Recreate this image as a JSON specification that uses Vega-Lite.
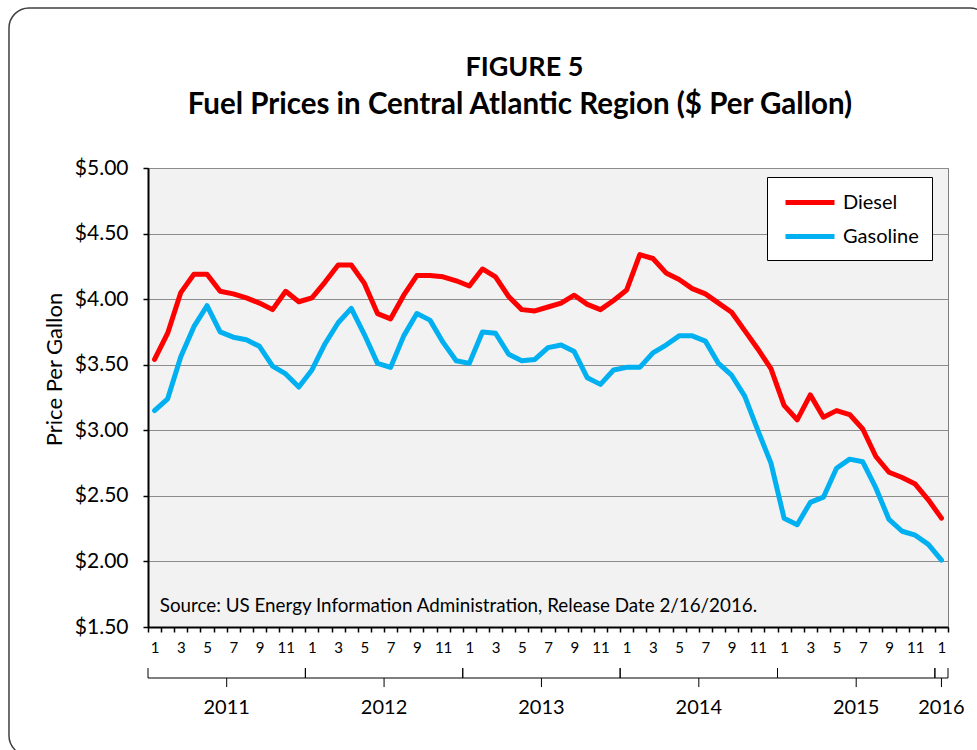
{
  "$schema": "https://vega.github.io/schema/vega-lite/v6.json",
  "autosize": "none",
  "width": 800,
  "height": 459,
  "padding": {"left": 148, "top": 168, "right": 29, "bottom": 123},
  "background": "white",
  "config": {
    "font": "Lato",
    "view": {"fill": "#f2f2f2", "stroke": "#7f7f7f", "strokeWidth": 1}
  },
  "resolve": {"axis": {"x": "independent"}},
  "datasets": {
    "prices": [
      {"date": "2011-01", "i": 0, "Diesel": 3.54, "Gasoline": 3.15},
      {"date": "2011-02", "i": 1, "Diesel": 3.74, "Gasoline": 3.24},
      {"date": "2011-03", "i": 2, "Diesel": 4.05, "Gasoline": 3.56},
      {"date": "2011-04", "i": 3, "Diesel": 4.19, "Gasoline": 3.79},
      {"date": "2011-05", "i": 4, "Diesel": 4.19, "Gasoline": 3.95},
      {"date": "2011-06", "i": 5, "Diesel": 4.06, "Gasoline": 3.75},
      {"date": "2011-07", "i": 6, "Diesel": 4.04, "Gasoline": 3.71},
      {"date": "2011-08", "i": 7, "Diesel": 4.01, "Gasoline": 3.69},
      {"date": "2011-09", "i": 8, "Diesel": 3.97, "Gasoline": 3.64},
      {"date": "2011-10", "i": 9, "Diesel": 3.92, "Gasoline": 3.49},
      {"date": "2011-11", "i": 10, "Diesel": 4.06, "Gasoline": 3.43},
      {"date": "2011-12", "i": 11, "Diesel": 3.98, "Gasoline": 3.33},
      {"date": "2012-01", "i": 12, "Diesel": 4.01, "Gasoline": 3.46},
      {"date": "2012-02", "i": 13, "Diesel": 4.13, "Gasoline": 3.66},
      {"date": "2012-03", "i": 14, "Diesel": 4.26, "Gasoline": 3.82},
      {"date": "2012-04", "i": 15, "Diesel": 4.26, "Gasoline": 3.93},
      {"date": "2012-05", "i": 16, "Diesel": 4.12, "Gasoline": 3.73},
      {"date": "2012-06", "i": 17, "Diesel": 3.89, "Gasoline": 3.51},
      {"date": "2012-07", "i": 18, "Diesel": 3.85, "Gasoline": 3.48},
      {"date": "2012-08", "i": 19, "Diesel": 4.03, "Gasoline": 3.72},
      {"date": "2012-09", "i": 20, "Diesel": 4.18, "Gasoline": 3.89},
      {"date": "2012-10", "i": 21, "Diesel": 4.18, "Gasoline": 3.84},
      {"date": "2012-11", "i": 22, "Diesel": 4.17, "Gasoline": 3.67},
      {"date": "2012-12", "i": 23, "Diesel": 4.14, "Gasoline": 3.53},
      {"date": "2013-01", "i": 24, "Diesel": 4.10, "Gasoline": 3.51},
      {"date": "2013-02", "i": 25, "Diesel": 4.23, "Gasoline": 3.75},
      {"date": "2013-03", "i": 26, "Diesel": 4.17, "Gasoline": 3.74},
      {"date": "2013-04", "i": 27, "Diesel": 4.02, "Gasoline": 3.58},
      {"date": "2013-05", "i": 28, "Diesel": 3.92, "Gasoline": 3.53},
      {"date": "2013-06", "i": 29, "Diesel": 3.91, "Gasoline": 3.54},
      {"date": "2013-07", "i": 30, "Diesel": 3.94, "Gasoline": 3.63},
      {"date": "2013-08", "i": 31, "Diesel": 3.97, "Gasoline": 3.65},
      {"date": "2013-09", "i": 32, "Diesel": 4.03, "Gasoline": 3.60},
      {"date": "2013-10", "i": 33, "Diesel": 3.96, "Gasoline": 3.40},
      {"date": "2013-11", "i": 34, "Diesel": 3.92, "Gasoline": 3.35},
      {"date": "2013-12", "i": 35, "Diesel": 3.99, "Gasoline": 3.46},
      {"date": "2014-01", "i": 36, "Diesel": 4.07, "Gasoline": 3.48},
      {"date": "2014-02", "i": 37, "Diesel": 4.34, "Gasoline": 3.48},
      {"date": "2014-03", "i": 38, "Diesel": 4.31, "Gasoline": 3.59},
      {"date": "2014-04", "i": 39, "Diesel": 4.20, "Gasoline": 3.65},
      {"date": "2014-05", "i": 40, "Diesel": 4.15, "Gasoline": 3.72},
      {"date": "2014-06", "i": 41, "Diesel": 4.08, "Gasoline": 3.72},
      {"date": "2014-07", "i": 42, "Diesel": 4.04, "Gasoline": 3.68},
      {"date": "2014-08", "i": 43, "Diesel": 3.97, "Gasoline": 3.51},
      {"date": "2014-09", "i": 44, "Diesel": 3.90, "Gasoline": 3.42},
      {"date": "2014-10", "i": 45, "Diesel": 3.76, "Gasoline": 3.26},
      {"date": "2014-11", "i": 46, "Diesel": 3.62, "Gasoline": 3.00},
      {"date": "2014-12", "i": 47, "Diesel": 3.47, "Gasoline": 2.75},
      {"date": "2015-01", "i": 48, "Diesel": 3.19, "Gasoline": 2.33},
      {"date": "2015-02", "i": 49, "Diesel": 3.08, "Gasoline": 2.28},
      {"date": "2015-03", "i": 50, "Diesel": 3.27, "Gasoline": 2.45},
      {"date": "2015-04", "i": 51, "Diesel": 3.10, "Gasoline": 2.49},
      {"date": "2015-05", "i": 52, "Diesel": 3.15, "Gasoline": 2.71},
      {"date": "2015-06", "i": 53, "Diesel": 3.12, "Gasoline": 2.78},
      {"date": "2015-07", "i": 54, "Diesel": 3.01, "Gasoline": 2.76},
      {"date": "2015-08", "i": 55, "Diesel": 2.80, "Gasoline": 2.56},
      {"date": "2015-09", "i": 56, "Diesel": 2.68, "Gasoline": 2.32},
      {"date": "2015-10", "i": 57, "Diesel": 2.64, "Gasoline": 2.23},
      {"date": "2015-11", "i": 58, "Diesel": 2.59, "Gasoline": 2.20},
      {"date": "2015-12", "i": 59, "Diesel": 2.47, "Gasoline": 2.13},
      {"date": "2016-01", "i": 60, "Diesel": 2.33, "Gasoline": 2.01}
    ],
    "years": [
      {"year": "2011", "start": -0.5, "end": 11.5, "mid": 5.5},
      {"year": "2012", "start": 11.5, "end": 23.5, "mid": 17.5},
      {"year": "2013", "start": 23.5, "end": 35.5, "mid": 29.5},
      {"year": "2014", "start": 35.5, "end": 47.5, "mid": 41.5},
      {"year": "2015", "start": 47.5, "end": 59.5, "mid": 53.5},
      {"year": "2016", "start": 59.5, "end": 60.5, "mid": 60}
    ],
    "note": [
      {"text": "Source: US Energy Information Administration, Release Date 2/16/2016."}
    ],
    "heading": [
      {"figure": "FIGURE 5", "caption": "Fuel Prices in Central Atlantic Region ($ Per Gallon)"}
    ]
  },
  "layer": [
    {
      "data": {"name": "note"},
      "mark": {"type": "rect", "cornerRadius": 20, "fillOpacity": 0, "stroke": "#404040", "strokeWidth": 1.5, "clip": false},
      "encoding": {
        "x": {"datum": -11.1, "type": "quantitative", "axis": null, "scale": {"domain": [-0.5, 60.5], "nice": false, "zero": false}},
        "x2": {"datum": 63.7},
        "y": {"datum": 6.22, "type": "quantitative", "scale": {"domain": [1.5, 5], "nice": false, "zero": false}},
        "y2": {"datum": 0.52}
      }
    },
    {
      "data": {"name": "heading"},
      "mark": {"type": "text", "align": "center", "baseline": "middle", "fontSize": 27, "fontWeight": "bold", "color": "black", "font": "Lato"},
      "encoding": {
        "x": {"datum": 28.2, "type": "quantitative", "axis": null},
        "y": {"datum": 5.763, "type": "quantitative"},
        "text": {"field": "figure"}
      }
    },
    {
      "data": {"name": "heading"},
      "mark": {"type": "text", "align": "center", "baseline": "middle", "fontSize": 29.5, "fontWeight": "bold", "color": "black", "font": "Lato"},
      "encoding": {
        "x": {"datum": 27.86, "type": "quantitative", "axis": null},
        "y": {"datum": 5.48, "type": "quantitative"},
        "text": {"field": "caption"}
      }
    },
    {
      "data": {"name": "note"},
      "mark": {"type": "text", "align": "left", "baseline": "middle", "fontSize": 18.8, "color": "black", "font": "Lato"},
      "encoding": {
        "x": {"datum": 0.4, "type": "quantitative", "axis": null},
        "y": {"datum": 1.66, "type": "quantitative"},
        "text": {"field": "text"}
      }
    },
    {
      "data": {"name": "prices"},
      "transform": [{"fold": ["Diesel", "Gasoline"], "as": ["fuel", "price"]}],
      "mark": {"type": "line", "strokeWidth": 5, "strokeJoin": "round", "strokeCap": "round"},
      "encoding": {
        "x": {
          "field": "i", "type": "quantitative",
          "scale": {"domain": [-0.5, 60.5], "nice": false, "zero": false},
          "axis": {
            "orient": "bottom",
            "title": null,
            "grid": false,
            "labels": false,
            "values": [-0.5,0.5,1.5,2.5,3.5,4.5,5.5,6.5,7.5,8.5,9.5,10.5,11.5,12.5,13.5,14.5,15.5,16.5,17.5,18.5,19.5,20.5,21.5,22.5,23.5,24.5,25.5,26.5,27.5,28.5,29.5,30.5,31.5,32.5,33.5,34.5,35.5,36.5,37.5,38.5,39.5,40.5,41.5,42.5,43.5,44.5,45.5,46.5,47.5,48.5,49.5,50.5,51.5,52.5,53.5,54.5,55.5,56.5,57.5,58.5,59.5,60.5],
            "tickSize": 5,
            "tickColor": "black",
            "tickWidth": 1.5,
            "domainColor": "black",
            "domainWidth": 2
          }
        },
        "y": {
          "field": "price", "type": "quantitative",
          "scale": {"domain": [1.5, 5], "nice": false, "zero": false},
          "axis": {
            "title": "Price Per Gallon",
            "titleFont": "Lato",
            "titleFontSize": 22,
            "titleFontWeight": "normal",
            "titleColor": "black",
            "titlePadding": 8,
            "titleY": 201,
            "values": [1.5, 2, 2.5, 3, 3.5, 4, 4.5, 5],
            "format": "$.2f",
            "labelFont": "Lato",
            "labelFontSize": 21,
            "labelColor": "black",
            "labelPadding": 15,
            "tickSize": 5,
            "tickColor": "black",
            "tickWidth": 1.5,
            "domainColor": "black",
            "domainWidth": 2,
            "grid": true,
            "gridColor": "#8c8c8c",
            "gridWidth": 1
          }
        },
        "color": {
          "field": "fuel", "type": "nominal",
          "scale": {"domain": ["Diesel", "Gasoline"], "range": ["#ff0000", "#00b0f0"]},
          "legend": {
            "title": null,
            "orient": "none",
            "legendX": 619,
            "legendY": 9,
            "fillColor": "white",
            "strokeColor": "black",
            "padding": 13,
            "symbolType": "M-2.45,0H2.45",
            "symbolSize": 400,
            "symbolStrokeWidth": 5,
            "symbolOffset": 17.5,
            "labelOffset": 20.5,
            "rowPadding": 11,
            "labelFont": "Lato",
            "labelFontSize": 20,
            "labelColor": "black",
            "labelLimit": 300
          }
        }
      }
    },
    {
      "data": {"name": "years"},
      "mark": {"type": "rule", "color": "black", "strokeWidth": 1},
      "encoding": {
        "x": {"field": "start", "type": "quantitative", "axis": null},
        "x2": {"field": "end"},
        "y": {"datum": 1.111, "type": "quantitative"}
      }
    },
    {
      "data": {"name": "years"},
      "mark": {"type": "rule", "color": "black", "strokeWidth": 1},
      "encoding": {
        "x": {"field": "start", "type": "quantitative", "axis": null},
        "y": {"datum": 1.111, "type": "quantitative"},
        "y2": {"datum": 1.187}
      }
    },
    {
      "data": {"name": "years"},
      "mark": {"type": "rule", "color": "black", "strokeWidth": 1},
      "encoding": {
        "x": {"field": "end", "type": "quantitative", "axis": null},
        "y": {"datum": 1.111, "type": "quantitative"},
        "y2": {"datum": 1.187}
      }
    },
    {
      "data": {"name": "years"},
      "mark": {"type": "rule", "color": "black", "strokeWidth": 1},
      "encoding": {
        "x": {"field": "mid", "type": "quantitative", "axis": null},
        "y": {"datum": 1.042, "type": "quantitative"},
        "y2": {"datum": 1.111}
      }
    },
    {
      "data": {"name": "years"},
      "mark": {"type": "text", "baseline": "middle", "align": "center", "fontSize": 20, "color": "black", "font": "Lato"},
      "encoding": {
        "x": {
          "field": "mid", "type": "quantitative",
          "axis": {
            "orient": "bottom",
            "title": null,
            "grid": false,
            "domain": false,
            "ticks": false,
            "values": [0,2,4,6,8,10,12,14,16,18,20,22,24,26,28,30,32,34,36,38,40,42,44,46,48,50,52,54,56,58,60],
            "labelExpr": "'' + (datum.value % 12 + 1)",
            "labelOverlap": false,
            "labelFlush": false,
            "labelFont": "Lato",
            "labelFontSize": 15,
            "labelColor": "black",
            "labelPadding": 13
          }
        },
        "y": {"datum": 0.882, "type": "quantitative"},
        "text": {"field": "year"}
      }
    }
  ]
}
